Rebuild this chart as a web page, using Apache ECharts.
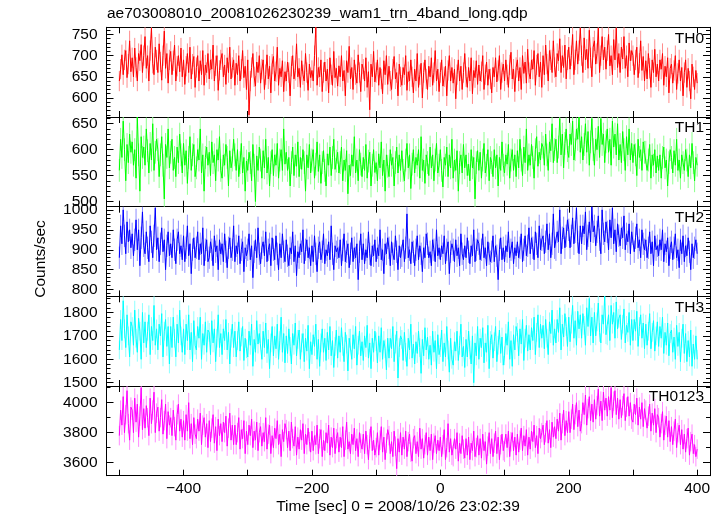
<!DOCTYPE html>
<html><head><meta charset="utf-8">
<script src="https://cdn.jsdelivr.net/npm/echarts@6/dist/echarts.min.js"></script>
<style>html,body{margin:0;padding:0;background:#fff}#c{width:723px;height:516px}</style>
</head><body><div id="c"></div>
<script>
// light curve time bins: first bin time and bin width (sec)
const binStart = -500;
const binSize = 2;

const th0 = [
640,668,702,655,690,712,648,680,735,662,
695,650,718,672,640,705,688,726,660,700,
745,670,700,640,712,765,682,655,720,690,
660,728,685,642,700,758,670,705,635,690,
710,655,688,725,640,675,700,662,718,650,
690,632,675,705,660,720,645,680,698,625,
672,700,640,688,655,712,630,678,660,705,
645,690,668,725,640,676,700,618,665,690,
705,650,678,632,695,660,720,645,672,690,
630,682,655,700,640,668,712,648,675,620,
690,560,640,672,705,650,628,685,660,700,
635,668,690,620,655,702,645,675,612,680,
698,640,662,720,630,670,650,688,615,662,
640,685,660,605,675,700,645,665,728,650,
670,625,688,655,640,705,660,618,680,648,
665,640,700,767,630,672,650,690,615,660,
685,640,668,612,695,655,630,710,648,670,
628,676,650,700,640,665,605,688,660,722,
645,672,620,690,655,635,702,660,615,680,
668,640,695,625,662,572,680,650,710,638,
660,690,630,672,645,610,688,655,700,632,
675,640,620,668,698,645,660,605,680,650,
630,672,655,700,618,662,640,690,650,612,
668,640,705,625,655,682,600,660,690,645,
620,675,650,695,630,660,712,640,668,615,
660,690,628,650,675,605,665,700,640,672,
635,668,598,655,690,640,675,620,660,705,
650,625,672,640,695,610,665,648,688,632,
678,640,662,700,620,655,685,630,668,645,
612,672,650,695,638,665,700,620,660,680,
640,690,655,625,678,708,645,668,615,672,
690,640,672,620,700,658,685,635,715,660,
645,690,668,712,630,678,705,650,685,625,
700,655,725,680,640,712,690,660,735,672,
650,705,688,740,660,700,672,725,645,690,
720,668,700,750,655,690,735,680,712,765,
700,660,742,690,715,670,760,695,650,720,
735,680,705,765,660,700,745,690,720,668,
712,750,676,700,655,738,690,765,672,705,
660,720,692,745,670,700,650,730,688,712,
700,655,690,720,648,682,735,665,698,640,
688,645,705,670,625,690,660,715,650,680,
640,690,668,705,630,675,650,695,612,670,
680,635,665,700,620,658,690,640,672,605,
660,690,625,670,640,598,680,650,620,665,
635];

const th1 = [
560,620,585,655,600,540,610,575,630,595,
615,570,600,545,663,590,520,625,585,605,
570,640,598,555,612,580,650,560,595,620,
600,548,590,625,570,505,610,585,640,565,
595,620,560,585,548,605,575,630,590,555,
612,570,598,535,585,625,560,590,610,548,
565,600,580,640,555,590,520,585,605,570,
595,550,615,575,590,540,600,580,625,560,
545,590,570,610,585,530,598,565,580,620,
590,560,600,548,575,612,555,585,520,578,
560,595,575,540,610,570,500,588,560,605,
580,545,598,565,620,555,585,530,575,600,
550,590,570,612,545,580,600,560,640,572,
595,560,585,530,575,605,550,590,568,615,
548,585,562,600,575,520,590,565,610,555,
580,600,545,572,615,558,590,535,575,598,
560,530,592,570,605,550,585,620,562,578,
595,555,575,605,540,580,560,598,515,570,
550,590,568,625,555,580,540,600,572,548,
585,560,610,545,578,595,530,570,600,556,
575,540,592,565,615,550,580,520,590,568,
548,600,570,585,530,575,605,555,590,560,
598,560,540,580,612,565,590,525,572,600,
555,585,570,600,545,625,560,580,535,590,
575,550,605,565,590,540,580,612,555,570,
600,560,528,585,570,605,548,590,565,620,
545,580,560,598,520,575,590,555,610,565,
590,550,572,540,600,565,585,505,575,598,
560,595,545,580,612,555,570,600,540,585,
575,548,600,565,590,530,585,560,615,570,
555,590,572,610,545,580,600,560,590,548,
598,565,620,580,550,605,575,640,560,590,
570,610,585,545,600,625,568,595,580,612,
605,570,630,590,560,615,598,650,575,600,
620,575,605,660,590,630,565,612,640,598,
585,630,610,655,580,600,640,620,663,595,
625,580,610,650,595,635,570,615,660,600,
570,620,600,645,585,660,610,630,575,615,
640,595,620,570,655,605,630,590,650,580,
610,575,635,600,560,625,590,640,580,612,
575,610,590,550,620,585,600,560,615,595,
595,560,580,610,545,590,570,600,555,588,
560,590,545,585,605,565,580,530,575,600,
585,555,598,570,620,560,580,545,590,575,
560,600,580,548,590,565,612,575,540,585,
570];

const th2 = [
880,960,915,1000,935,890,970,920,950,905,
940,885,925,975,900,950,860,930,995,910,
890,945,905,870,960,920,880,935,1005,900,
930,870,915,955,895,925,850,910,945,885,
915,880,950,900,865,925,945,890,910,875,
935,870,905,960,885,915,840,900,930,880,
905,945,875,915,890,955,860,900,925,870,
880,920,900,860,935,895,910,850,925,890,
915,870,940,895,855,905,930,880,900,960,
870,910,890,935,865,900,920,845,905,885,
900,940,875,910,830,895,925,880,955,890,
865,905,920,885,945,870,900,915,860,930,
900,875,935,890,850,915,880,940,895,870,
925,885,860,905,890,945,870,910,835,895,
880,915,895,950,865,900,925,880,905,860,
910,870,935,890,845,905,920,875,895,940,
865,900,885,920,875,960,890,850,910,895,
905,880,925,860,900,940,870,895,915,855,
890,930,870,905,880,915,825,895,940,875,
915,865,900,880,945,890,860,910,885,925,
870,905,885,950,875,900,840,915,890,930,
905,860,920,890,875,935,895,850,910,880,
885,925,870,905,990,880,900,865,920,895,
860,900,935,875,910,890,845,905,880,940,
915,880,895,860,925,900,870,950,885,905,
875,910,890,935,865,900,920,840,895,915,
900,870,925,885,905,860,940,890,875,910,
880,930,895,865,910,885,950,870,900,925,
915,875,900,940,880,905,860,920,890,870,
895,935,870,910,885,825,900,930,875,905,
870,910,895,945,880,900,920,865,905,885,
920,880,905,940,870,900,935,885,910,955,
890,930,905,875,945,915,880,960,900,925,
935,890,920,965,900,940,880,915,990,905,
900,945,920,1000,890,930,955,905,935,975,
950,905,935,980,915,945,1005,920,890,960,
915,960,940,995,900,935,970,920,1008,945,
960,910,945,985,925,890,1000,940,920,970,
945,900,975,930,1005,915,950,895,965,935,
910,955,930,985,900,940,920,965,890,945,
940,895,930,965,905,925,880,950,915,900,
925,880,905,945,890,920,860,935,900,910,
885,925,900,950,870,915,895,930,860,905,
920,875,905,940,880,900,855,925,890,935,
870,910,885,930,895,850,915,880,905,925,
890];

const th3 = [
1640,1770,1680,1850,1730,1650,1790,1700,1610,1760,
1740,1660,1810,1690,1630,1775,1720,1600,1800,1670,
1760,1650,1720,1790,1620,1740,1680,1830,1660,1730,
1640,1750,1700,1795,1610,1720,1770,1655,1740,1580,
1740,1650,1780,1690,1610,1750,1670,1810,1700,1630,
1730,1620,1750,1680,1790,1640,1715,1590,1765,1660,
1640,1740,1690,1780,1600,1710,1660,1760,1630,1725,
1715,1620,1765,1670,1730,1590,1690,1790,1650,1710,
1620,1730,1680,1770,1640,1715,1580,1690,1750,1650,
1720,1610,1680,1760,1635,1695,1740,1595,1690,1645,
1610,1720,1660,1750,1570,1685,1630,1765,1665,1710,
1710,1600,1720,1650,1755,1625,1685,1560,1670,1740,
1615,1700,1645,1750,1600,1680,1780,1630,1710,1585,
1700,1625,1730,1655,1580,1710,1660,1755,1615,1685,
1725,1600,1670,1710,1590,1690,1635,1745,1560,1675,
1620,1705,1655,1750,1600,1685,1570,1670,1730,1630,
1690,1595,1715,1640,1740,1615,1680,1565,1655,1725,
1605,1700,1630,1735,1655,1590,1715,1665,1550,1690,
1690,1600,1705,1645,1740,1575,1660,1720,1615,1675,
1595,1700,1650,1745,1605,1670,1560,1690,1630,1720,
1675,1585,1700,1630,1735,1600,1680,1645,1555,1690,
1605,1690,1645,1740,1590,1665,1720,1520,1650,1700,
1685,1595,1715,1630,1570,1690,1640,1750,1605,1665,
1580,1675,1625,1720,1650,1540,1685,1615,1735,1640,
1695,1600,1660,1575,1720,1630,1680,1560,1705,1620,
1650,1725,1590,1670,1610,1740,1640,1545,1690,1600,
1575,1675,1635,1720,1595,1660,1750,1610,1655,1565,
1685,1610,1720,1640,1580,1700,1500,1670,1615,1740,
1600,1690,1650,1735,1585,1670,1630,1745,1560,1680,
1705,1605,1675,1740,1590,1660,1725,1625,1695,1575,
1615,1710,1660,1760,1600,1680,1570,1705,1640,1740,
1715,1615,1730,1665,1770,1595,1690,1745,1635,1705,
1640,1735,1680,1780,1620,1715,1790,1650,1750,1690,
1745,1645,1770,1690,1620,1760,1710,1810,1660,1730,
1670,1770,1715,1820,1640,1750,1695,1795,1740,1655,
1780,1675,1750,1830,1690,1765,1660,1805,1730,1790,
1690,1795,1745,1660,1820,1740,1860,1700,1780,1670,
1800,1700,1760,1840,1715,1670,1790,1750,1869,1705,
1700,1790,1680,1830,1750,1800,1690,1845,1730,1775,
1790,1685,1750,1815,1670,1745,1715,1800,1660,1770,
1680,1770,1720,1805,1655,1740,1790,1690,1755,1645,
1750,1660,1720,1795,1645,1715,1765,1635,1700,1760,
1655,1740,1690,1780,1625,1715,1660,1755,1615,1710,
1725,1630,1695,1600,1745,1655,1715,1590,1690,1750,
1625,1710,1590,1680,1610,1725,1570,1665,1600,1700,
1600];

const th0123 = [
3780,3950,3850,4040,3800,3920,4080,3860,3750,3970,
3950,3800,4030,3870,3990,3770,3910,4100,3820,3960,
3830,3980,3900,3780,4030,3860,3950,4070,3800,3930,
3970,3810,3900,4020,3790,3880,3990,3760,3940,3850,
3900,3780,3950,3840,3750,3920,3990,3810,3890,3770,
3880,3750,3920,3810,4000,3760,3860,3720,3900,3790,
3760,3890,3810,3930,3720,3850,3900,3770,3860,3700,
3880,3740,3830,3920,3730,3840,3680,3890,3780,3860,
3740,3870,3800,3910,3710,3830,3930,3750,3850,3720,
3850,3720,3800,3900,3690,3820,3760,3880,3660,3810,
3720,3850,3780,3890,3700,3810,3750,3870,3680,3800,
3840,3710,3800,3740,3900,3690,3790,3850,3660,3780,
3700,3830,3760,3880,3720,3790,3640,3820,3740,3860,
3820,3700,3810,3680,3870,3760,3710,3840,3650,3770,
3690,3820,3750,3860,3660,3790,3720,3830,3740,3670,
3810,3680,3780,3720,3850,3660,3760,3820,3640,3750,
3680,3800,3730,3850,3650,3770,3700,3830,3660,3760,
3800,3670,3770,3700,3840,3640,3750,3870,3690,3740,
3660,3790,3720,3830,3680,3760,3640,3800,3730,3690,
3790,3660,3810,3720,3620,3760,3840,3680,3750,3650,
3700,3800,3650,3750,3840,3670,3770,3620,3730,3820,
3780,3660,3740,3640,3810,3710,3560,3760,3670,3800,
3650,3770,3690,3810,3640,3740,3790,3670,3610,3760,
3780,3660,3740,3640,3830,3690,3760,3630,3720,3800,
3650,3770,3680,3790,3620,3730,3780,3660,3750,3680,
3770,3640,3720,3820,3620,3700,3860,3670,3760,3650,
3640,3760,3690,3800,3610,3730,3660,3780,3690,3630,
3760,3650,3770,3620,3730,3680,3810,3640,3700,3780,
3650,3760,3630,3790,3680,3740,3590,3710,3800,3660,
3760,3640,3730,3810,3660,3770,3620,3720,3790,3680,
3670,3790,3700,3810,3640,3740,3800,3680,3770,3650,
3790,3670,3750,3830,3680,3780,3710,3820,3650,3770,
3690,3810,3740,3850,3700,3780,3660,3830,3760,3800,
3850,3720,3800,3880,3730,3820,3700,3870,3770,3840,
3760,3890,3810,3930,3750,3860,3950,3780,3880,3800,
3940,3800,3890,3990,3820,3920,4000,3840,3950,3810,
3860,4000,3920,4050,3850,3960,4040,3880,3990,3870,
4020,3890,3980,4090,3910,4010,3880,4070,3950,4030,
3910,4040,3950,4100,3900,4010,4080,3920,4030,3890,
4020,3900,3980,4060,3880,3970,4040,3910,4000,3890,
3870,3990,3920,4030,3850,3970,3890,4000,3840,3960,
3950,3830,3910,3990,3810,3930,3850,3960,3800,3920,
3900,3770,3860,3940,3750,3850,3910,3770,3880,3740,
3840,3720,3810,3890,3700,3800,3850,3720,3820,3690,
3790,3670,3760,3830,3650,3740,3790,3660,3720,3640,
3690];

const bandNames = ['TH0','TH1','TH2','TH3','TH0123'];
const bandErrors = [24, 22, 28, 40, 65];
const yMins = [555, 490, 783, 1486, 3513];
const yMaxs = [767, 663, 1008, 1869, 4111];
const yMajorTicks = [
  [600,650,700,750],
  [500,550,600,650],
  [800,850,900,950,1000],
  [1500,1600,1700,1800],
  [3600,3800,4000]
];
const yMinorSteps = [10, 10, 10, 20, 100];
const xTickValues = [-500,-400,-300,-200,-100,0,100,200,300,400];
const xTickLabels = [-400,-200,0,200,400];
const xMin = -520, xMax = 420;

const titleText = 'ae703008010_20081026230239_wam1_trn_4band_long.qdp';
const xTitle = 'Time [sec] 0 = 2008/10/26 23:02:39';
const yTitle = 'Counts/sec';

const series = [th0, th1, th2, th3, th0123];
const strong = ['#ff0000','#00ff00','#0000ff','#00ffff','#ff00ff'];
const light  = ['#ff8c8c','#8cff8c','#8c8cff','#8cffff','#ff8cff'];

const FONT = 'Liberation Sans, Arial, Helvetica, sans-serif';
const FS = 15.5;
const gridTops = [27.3, 117, 206.7, 296.3, 386];
const gridH = 89.7;
const gridLeft = 106.5, gridW = 603.5;

const grids = [], xAxes = [], yAxes = [], ser = [], graphics = [];
const axisLineStyle = {show:true, onZero:false, lineStyle:{color:'#000', width:1}};
const noLine = {show:false, onZero:false};

for (let k = 0; k < 5; k++) {
  grids.push({left:gridLeft, top:gridTops[k], width:gridW, height:gridH, show:false});
  ['bottom','top'].forEach((pos) => {
    const showLab = (k === 4 && pos === 'bottom');
    xAxes.push({
      type:'value', gridIndex:k, position:pos, min:xMin, max:xMax,
      axisLine:axisLineStyle,
      axisTick:{show:true, inside:true, length:6, customValues:xTickValues, lineStyle:{color:'#000'}},
      axisLabel:{show:showLab, customValues:xTickLabels, color:'#000', fontFamily:FONT, fontSize:FS, margin:5,
        formatter:(v)=> (v < 0 ? '\u2212' + Math.abs(v) : String(v))},
      splitLine:{show:false}
    });
  });
  const minors = [];
  for (let v = Math.ceil(yMins[k]/yMinorSteps[k])*yMinorSteps[k]; v <= yMaxs[k]; v += yMinorSteps[k]) minors.push(v);
  const base = {type:'value', gridIndex:k, min:yMins[k], max:yMaxs[k], splitLine:{show:false}};
  yAxes.push(Object.assign({}, base, {position:'left', axisLine:axisLineStyle,
    axisTick:{show:true, inside:true, length:7, customValues:yMajorTicks[k], lineStyle:{color:'#000'}},
    axisLabel:{show:true, customValues:yMajorTicks[k], color:'#000', fontFamily:FONT, fontSize:FS, margin:9,
      formatter:(v)=>String(v)}}));
  yAxes.push(Object.assign({}, base, {position:'left', axisLine:noLine,
    axisTick:{show:true, inside:true, length:4, customValues:minors, lineStyle:{color:'#000'}},
    axisLabel:{show:false}}));
  yAxes.push(Object.assign({}, base, {position:'right', axisLine:axisLineStyle,
    axisTick:{show:true, inside:true, length:7, customValues:yMajorTicks[k], lineStyle:{color:'#000'}},
    axisLabel:{show:false}}));
  yAxes.push(Object.assign({}, base, {position:'right', axisLine:noLine,
    axisTick:{show:true, inside:true, length:4, customValues:minors, lineStyle:{color:'#000'}},
    axisLabel:{show:false}}));

  const vals = series[k];
  const pts = vals.map((v, i) => [binStart + i*binSize, v]);
  const errPts = vals.map((v, i) => [binStart + i*binSize, v, bandErrors[k]]);
  const lc = light[k];
  ser.push({
    type:'custom', xAxisIndex:2*k, yAxisIndex:4*k, clip:true, silent:true, animation:false,
    encode:{x:0, y:1},
    data:errPts,
    renderItem:(params, api) => {
      const x = api.value(0), y = api.value(1), e = api.value(2);
      const p1 = api.coord([x, y - e]), p2 = api.coord([x, y + e]);
      return {type:'line', shape:{x1:p1[0], y1:p1[1], x2:p2[0], y2:p2[1]}, style:{stroke:lc, lineWidth:1}};
    }
  });
  ser.push({
    type:'line', xAxisIndex:2*k, yAxisIndex:4*k, data:pts, showSymbol:false, symbol:'none',
    clip:true, animation:false, silent:true,
    lineStyle:{color:strong[k], width:1}
  });
  graphics.push({type:'text', right:723-704, top:gridTops[k]+3,
    style:{text:bandNames[k], fill:'#000', font:FS+'px '+FONT}});
}

graphics.push({type:'text', left:107, top:6, style:{text:titleText, fill:'#000', font:FS+'px '+FONT}});
graphics.push({type:'text', x:398, y:507, style:{text:xTitle, fill:'#000', font:FS+'px '+FONT, align:'center', verticalAlign:'middle'}});
graphics.push({type:'text', x:41, y:259, rotation:Math.PI/2, style:{text:yTitle, fill:'#000', font:FS+'px '+FONT, align:'center', verticalAlign:'middle'}});

const chart = echarts.init(document.getElementById('c'), null, {renderer:'canvas'});
chart.setOption({
  animation:false,
  backgroundColor:'#fff',
  grid:grids, xAxis:xAxes, yAxis:yAxes, series:ser, graphic:graphics
});
</script>
</body></html>
